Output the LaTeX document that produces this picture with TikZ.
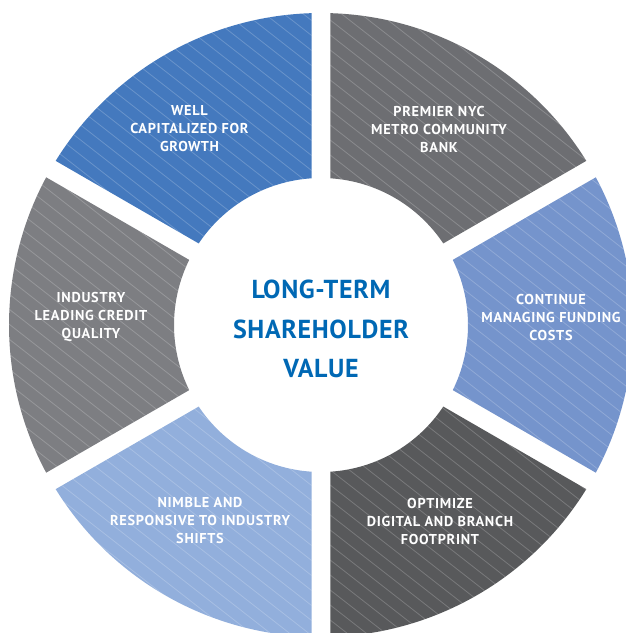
\documentclass[tikz,border=0pt]{standalone}
\usepackage{fontspec}
\setmainfont{PT Sans}
\definecolor{segblue}{HTML}{4479BE}
\definecolor{seggray}{HTML}{6D6E72}
\definecolor{seglight}{HTML}{7594CC}
\definecolor{segdark}{HTML}{58595B}
\definecolor{segpale}{HTML}{92AFDC}
\definecolor{segmid}{HTML}{7D7E82}
\definecolor{hubblue}{HTML}{0068B4}
\begin{document}
\begin{tikzpicture}[x=1pt,y=1pt,
    lbl/.style={text=white,font=\bfseries\fontsize{14.3}{18}\selectfont\addfontfeature{LetterSpace=5},align=center},
    hub/.style={text=hubblue,font=\bfseries\fontsize{26}{39.5}\selectfont\addfontfeature{LetterSpace=2.5},align=center},
    hatch/.style={white,opacity=0.2,line width=0.8pt}]
    \useasboundingbox (-321,-308) rectangle (305,325);
    %% Ring segments
    \foreach \a/\c in {90/segblue,30/seggray,-30/seglight,-90/segdark,-150/segpale,150/segmid}{
        \begin{scope}
            \clip (\a+1.745:312) arc[start angle=\a+1.745,end angle=\a+58.255,radius=312]
                -- (\a+56.295:147) arc[start angle=\a+56.295,end angle=\a+3.705,radius=147] -- cycle;
            \fill[\c] (-330,-330) rectangle (330,330);
            %% Stripes
            \foreach \k in {0,...,80}
                \draw[hatch] (-330,{-330+15*\k}) -- ++(-38:900);
        \end{scope}
    }
    %% Centre
    \node[hub] (hub) at (0,-4) {LONG-TERM\\SHAREHOLDER\\VALUE};
    %% Labels
    \node[lbl] (well) at (-131.5,196) {WELL\\CAPITALIZED FOR\\GROWTH};
    \node[lbl] (premier) at (118,196) {PREMIER NYC\\METRO COMMUNITY\\BANK};
    \node[lbl] (funding) at (230,8) {CONTINUE\\MANAGING FUNDING\\COSTS};
    \node[lbl] (footprint) at (119,-196) {OPTIMIZE\\DIGITAL AND BRANCH\\FOOTPRINT};
    \node[lbl] (nimble) at (-121,-196) {NIMBLE AND\\RESPONSIVE TO INDUSTRY\\SHIFTS};
    \node[lbl] (credit) at (-230,8) {INDUSTRY\\LEADING CREDIT\\QUALITY};
\end{tikzpicture}
\end{document}
